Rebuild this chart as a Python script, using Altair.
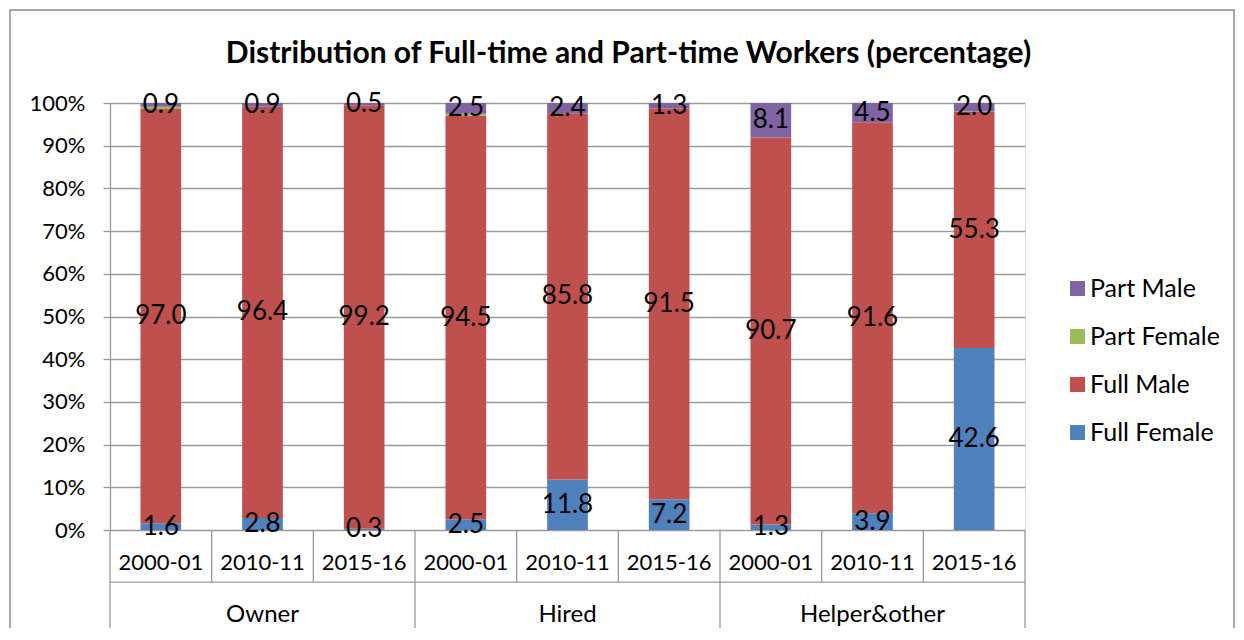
import altair as alt
import pandas as pd

groups = ["Owner", "Hired", "Helper&other"]
years = ["2000-01", "2010-11", "2015-16"]
series_stack = ["Full Female", "Full Male", "Part Female", "Part Male"]
legend_order = ["Part Male", "Part Female", "Full Male", "Full Female"]
legend_colors = ["#8064A2", "#9BBB59", "#C0504D", "#4F81BD"]

full_female = [1.6, 2.8, 0.3, 2.5, 11.8, 7.2, 1.3, 3.9, 42.6]
full_male = [97.0, 96.4, 99.2, 94.5, 85.8, 91.5, 90.7, 91.6, 55.3]
part_female = [0.5, 0.0, 0.0, 0.5, 0.0, 0.0, 0.0, 0.0, 0.1]
part_male = [0.9, 0.9, 0.5, 2.5, 2.4, 1.3, 8.1, 4.5, 2.0]
labelled = ["Full Female", "Full Male", "Part Male"]

values = {
    "Full Female": full_female,
    "Full Male": full_male,
    "Part Female": part_female,
    "Part Male": part_male,
}

keys = [f"{g}|{y}" for g in groups for y in years]

rows = []
for i, k in enumerate(keys):
    g, yr = k.split("|")
    total = sum(values[s][i] for s in series_stack)
    cum = 0.0
    for s in series_stack:
        v = values[s][i]
        start = cum / total
        cum += v
        end = cum / total
        rows.append(dict(key=k, group=g, year=yr, series=s, value=v,
                         start=start, end=end, mid=(start + end) / 2,
                         label=s in labelled))
df = pd.DataFrame(rows)
df_lab = df[df["label"]].copy()

# separators of the two-level category axis (in y-scale units below 0)
sep_rows = []
for i, k in enumerate(keys):
    sep_rows.append(dict(key=k, y0=0.0, y1=-0.25 if i % 3 == 0 else -0.122))
df_sep = pd.DataFrame(sep_rows)
df_sep_end = pd.DataFrame([dict(key=keys[-1], y0=0.0, y1=-0.25)])
df_hline = pd.DataFrame([dict(y=-0.122)])
df_groups = pd.DataFrame([dict(key=keys[i * 3 + 1], group=g, y=-0.2)
                          for i, g in enumerate(groups)])

FONT = "Lato"
W, H = 915, 427
GRID = "#9a9a9a"

xscale = alt.Scale(domain=keys, paddingInner=0, paddingOuter=0)
yscale = alt.Scale(domain=[0, 1], nice=False)

xaxis = alt.Axis(title=None, labelExpr="split(datum.value, '|')[1]",
                 ticks=False, domain=False, labelAngle=0,
                 labelFontSize=22, labelFont=FONT, labelColor="black",
                 labelPadding=22)
yaxis = alt.Axis(title=None, format=".0%",
                 values=[i / 10 for i in range(11)],
                 grid=True, gridColor=GRID, gridWidth=1.3,
                 domainColor=GRID, domainWidth=1.3,
                 tickColor=GRID, tickSize=7, tickWidth=1.3,
                 labelFontSize=22, labelFont=FONT, labelColor="black",
                 labelPadding=18)

bars = alt.Chart(df).mark_bar(width=alt.RelativeBandSize(0.4)).encode(
    x=alt.X("key:N", sort=keys, scale=xscale, axis=xaxis),
    y=alt.Y("start:Q", scale=yscale, axis=yaxis),
    y2="end:Q",
    color=alt.Color("series:N",
                    scale=alt.Scale(domain=legend_order, range=legend_colors),
                    legend=alt.Legend(title=None, orient="none",
                                      legendX=955, legendY=173,
                                      symbolType="square", symbolSize=225,
                                      symbolStrokeWidth=0,
                                      labelFontSize=25, labelFont=FONT,
                                      labelColor="black", labelOffset=0,
                                      rowPadding=22)),
)

texts = alt.Chart(df_lab).mark_text(fontSize=26, font=FONT, color="black",
                                    baseline="middle").encode(
    x=alt.X("key:N", sort=keys, scale=xscale, axis=xaxis),
    y=alt.Y("mid:Q", scale=yscale, axis=yaxis),
    text=alt.Text("value:Q", format=".1f"),
)

seps = alt.Chart(df_sep).mark_rule(color=GRID, strokeWidth=1.3).encode(
    x=alt.X("key:N", sort=keys, scale=xscale, bandPosition=0, axis=xaxis),
    y=alt.Y("y0:Q", scale=yscale, axis=yaxis),
    y2="y1:Q",
)
sep_end = alt.Chart(df_sep_end).mark_rule(color=GRID, strokeWidth=1.3).encode(
    x=alt.X("key:N", sort=keys, scale=xscale, bandPosition=1, axis=xaxis),
    y=alt.Y("y0:Q", scale=yscale, axis=yaxis),
    y2="y1:Q",
)
hline = alt.Chart(df_hline).mark_rule(color=GRID, strokeWidth=1.3).encode(
    y=alt.Y("y:Q", scale=yscale, axis=yaxis),
)
glabels = alt.Chart(df_groups).mark_text(fontSize=24, font=FONT, color="black",
                                         baseline="middle").encode(
    x=alt.X("key:N", sort=keys, scale=xscale, axis=xaxis),
    y=alt.Y("y:Q", scale=yscale, axis=yaxis),
    text="group:N",
)
frame = alt.Chart(pd.DataFrame({"a": [0]})).mark_rect(
    fill="transparent", stroke="#8c8c8c", strokeWidth=1.5).encode(
    x=alt.value(-100), x2=alt.value(1124), y=alt.value(-93), y2=alt.value(700)
)

chart = alt.layer(bars, texts, seps, sep_end, hline, glabels, frame).properties(
    width=W, height=H,
    title=alt.TitleParams("Distribution of Full-time and Part-time Workers (percentage)",
                          font=FONT, fontSize=30, fontWeight="bold", color="black",
                          anchor="middle", frame="group", dx=61, offset=-60),
    autosize=alt.AutoSizeParams(type="none"),
    padding={"left": 102, "top": 95, "right": 211, "bottom": 98},
).configure_view(stroke=None).configure(background="white")

chart.save("out.html", embed_options={"renderer": "svg", "actions": False})
